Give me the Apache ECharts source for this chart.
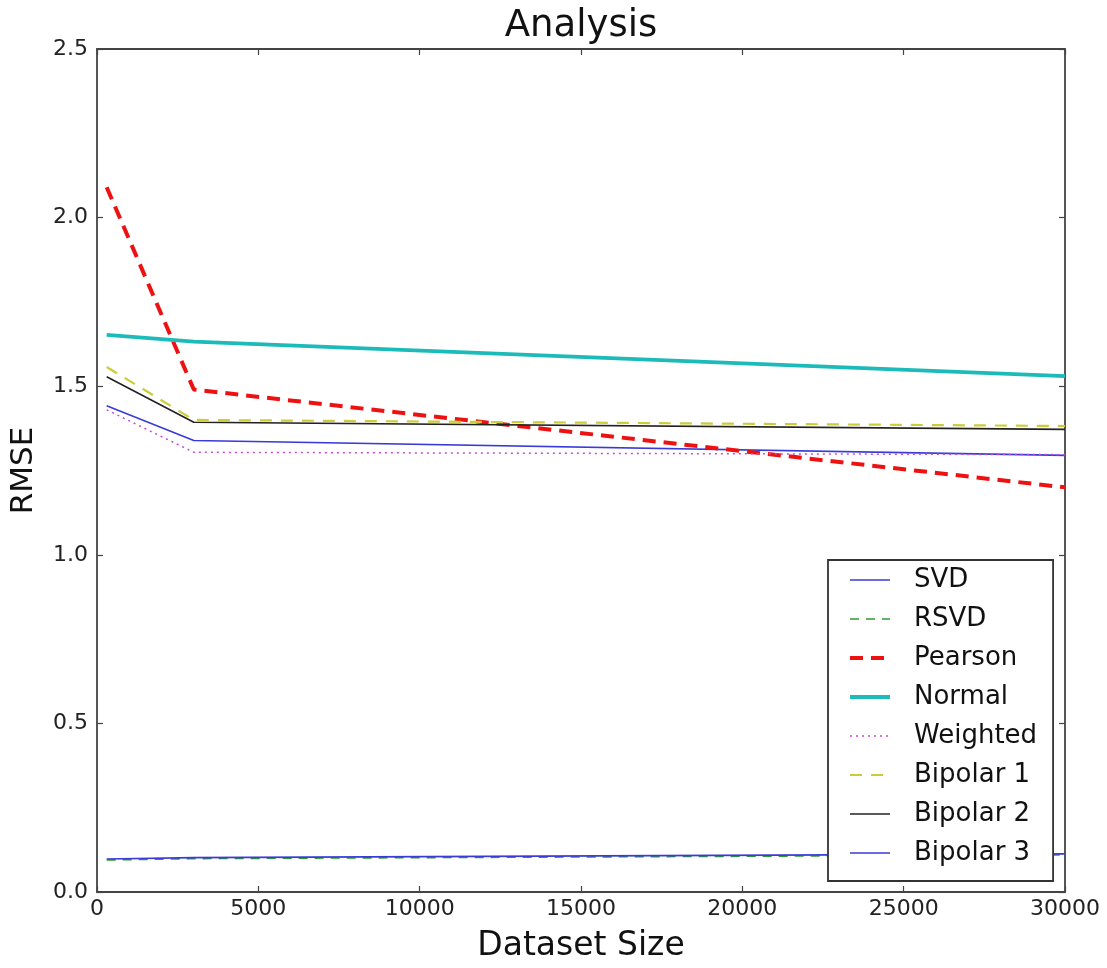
<!DOCTYPE html>
<html>
<head>
<meta charset="utf-8">
<script src="https://cdn.jsdelivr.net/npm/echarts@6/dist/echarts.min.js"></script>
<style>html,body{margin:0;padding:0;background:#fff}#c{width:1107px;height:968px}</style>
</head>
<body>
<div id="c"></div>
<script>
const datasetSizes = [300, 3000, 30000];
const svd      = [1.442, 1.339, 1.295];
const rsvd     = [0.095, 0.099, 0.110];
const pearson  = [2.09, 1.49, 1.20];
const normal   = [1.652, 1.632, 1.530];
const weighted = [1.430, 1.304, 1.297];
const bipolar1 = [1.557, 1.400, 1.382];
const bipolar2 = [1.528, 1.393, 1.372];
const bipolar3 = [0.098, 0.102, 0.113];
const xTicks = [0, 5000, 10000, 15000, 20000, 25000, 30000];
const yTicks = [0.0, 0.5, 1.0, 1.5, 2.0, 2.5];

function pts(vals){ return datasetSizes.map((x,i)=>[x, vals[i]]); }

const seriesDefs = [
  {name:'SVD', data:svd, color:'#3a3ad8', width:1.6, type:'solid'},
  {name:'RSVD', data:rsvd, color:'#2f9a2f', width:1.6, type:[9,7]},
  {name:'Pearson', data:pearson, color:'#ee1111', width:4, type:[13,8]},
  {name:'Normal', data:normal, color:'#1dbaba', width:3.8, type:'solid'},
  {name:'Weighted', data:weighted, color:'#c44ccf', width:1.5, type:[2,4]},
  {name:'Bipolar 1', data:bipolar1, color:'#cccc3a', width:2.2, type:[12,9]},
  {name:'Bipolar 2', data:bipolar2, color:'#222222', width:1.6, type:'solid'},
  {name:'Bipolar 3', data:bipolar3, color:'#3a3ad8', width:1.6, type:'solid'}
];

const chart = echarts.init(document.getElementById('c'), null, {renderer:'canvas'});
const font = 'DejaVu Sans';
const axisLine = {show:true, onZero:false, lineStyle:{color:'#444', width:1.8}};
const tick = {show:true, inside:true, length:6, lineStyle:{color:'#444', width:1.2}};
chart.setOption({
  backgroundColor:'#fff',
  animation:false,
  title:{text:'Analysis', left:576, top:3, textAlign:'center',
    textStyle:{fontFamily:font, fontSize:37, fontWeight:'normal', color:'#111'}},
  grid:{left:96, top:49, width:969, height:846},
  xAxis:[{
    type:'value', min:0, max:30000, interval:5000, position:'bottom',
    name:'Dataset Size', nameLocation:'middle', nameGap:38,
    nameTextStyle:{fontFamily:font, fontSize:33, color:'#111'},
    axisLine:axisLine, splitLine:{show:false}, axisTick:tick,
    axisLabel:{fontFamily:font, fontSize:22, color:'#222', margin:6,
      formatter:v=> xTicks.includes(v) ? String(v) : ''}
  },{
    type:'value', min:0, max:30000, interval:5000, position:'top',
    axisLine:axisLine, splitLine:{show:false}, axisTick:tick,
    axisLabel:{show:false}
  }],
  yAxis:[{
    type:'value', min:0, max:2.5, interval:0.5, position:'left',
    name:'RMSE', nameLocation:'middle', nameGap:58, nameRotate:90,
    nameTextStyle:{fontFamily:font, fontSize:31, color:'#111'},
    axisLine:axisLine, splitLine:{show:false}, axisTick:tick,
    axisLabel:{fontFamily:font, fontSize:22, color:'#222', margin:9,
      formatter:v=> yTicks.some(t=>Math.abs(t-v)<1e-9) ? v.toFixed(1) : ''}
  },{
    type:'value', min:0, max:2.5, interval:0.5, position:'right',
    axisLine:axisLine, splitLine:{show:false}, axisTick:tick,
    axisLabel:{show:false}
  }],
  legend:{
    orient:'vertical', left:828, top:560,
    padding:[7, 16, 15, 20],
    itemWidth:40, itemHeight:14, itemGap:13,
    itemStyle:{opacity:0},
    backgroundColor:'#fff', borderColor:'#333', borderWidth:1.8, borderRadius:0,
    textStyle:{fontFamily:font, fontSize:26, color:'#111', lineHeight:26, padding:[0,0,0,19]},
    data:seriesDefs.map(s=>({name:s.name,
      lineStyle:{color:s.color, width:s.width, type:s.type}}))
  },
  series:seriesDefs.map(s=>({
    name:s.name, type:'line', xAxisIndex:0, yAxisIndex:0,
    data:pts(s.data), symbol:'none', showSymbol:false,
    lineStyle:{color:s.color, width:s.width, type:s.type},
    itemStyle:{color:s.color},
    emphasis:{disabled:true}
  }))
});
</script>
</body>
</html>
